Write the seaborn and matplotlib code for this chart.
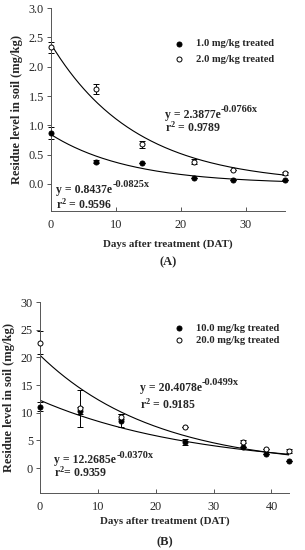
import numpy as np
import pandas as pd
import matplotlib
matplotlib.use("Agg")
import matplotlib.pyplot as plt
import seaborn as sns

# Panel A data (days, mg/kg)
days_a = [0, 7, 14, 22, 28, 36]
low_a = [0.87, 0.38, 0.36, 0.10, 0.06, 0.06]
low_a_err = [0.10, 0.03, 0.0, 0.0, 0.0, 0.0]
high_a = [2.33, 1.62, 0.68, 0.38, 0.24, 0.18]
high_a_err = [0.09, 0.09, 0.06, 0.04, 0.0, 0.03]
fit_low_a = (0.8437, -0.0825)
fit_high_a = (2.3877, -0.0766)

# Panel B data
days_b = [0, 7, 14, 25, 35, 39, 43]
low_b = [11.1, 10.4, 8.6, 4.7, 3.8, 2.5, 1.3]
low_b_err = [0.8, 0.7, 1.2, 0.6, 0.0, 0.0, 0.0]
high_b = [22.7, 10.8, 9.3, 7.4, 4.8, 3.5, 3.1]
high_b_err = [2.1, 3.3, 0.5, 0.0, 0.3, 0.0, 0.3]
fit_low_b = (12.2685, -0.0370)
fit_high_b = (20.4078, -0.0499)

sns.set_style("ticks")
plt.rcParams["font.family"] = ["Liberation Serif", "DejaVu Serif"]
plt.rcParams["mathtext.fontset"] = "custom"
plt.rcParams["mathtext.bf"] = "Liberation Serif:bold"
plt.rcParams["mathtext.rm"] = "Liberation Serif:bold"
plt.rcParams["mathtext.default"] = "bf"

fig = plt.figure(figsize=(3.05, 5.5), dpi=100)
ax_a = fig.add_axes([0.167, 0.6164, 0.767, 0.369])
ax_b = fig.add_axes([0.131, 0.1036, 0.816, 0.347])

EQ_SIZE = 8.5


def equation(ax, x, y, coef, expo):
    t = ax.text(x, y, "y = %se" % coef, fontsize=EQ_SIZE, fontweight="bold", va="center")
    ax.annotate(expo, xy=(1.0, 0.55), xycoords=t, va="bottom", ha="left",
                fontsize=7.5, fontweight="bold")


def draw_panel(ax, days, low, low_err, high, high_err, fit_low, fit_high, labels, xmax,
               anchor, spacing, xpad):
    x_fit = np.linspace(0, xmax, 200)
    for a, k in (fit_low, fit_high):
        sns.lineplot(x=x_fit, y=a * np.exp(k * x_fit), ax=ax, color="black", lw=0.8)
    for vals, err in ((high, high_err), (low, low_err)):
        eb = ax.errorbar(days, vals, yerr=err, fmt="none", ecolor="black", elinewidth=0.7,
                         capsize=2, capthick=0.7)
        for art in eb.lines[1] + eb.lines[2]:
            art.set_clip_on(False)
    df = pd.DataFrame({"day": days * 2, "val": low + high,
                       "grp": [labels[0]] * len(days) + [labels[1]] * len(days)})
    for lab, fc in zip(labels, ("black", "white")):
        sns.scatterplot(data=df[df.grp == lab], x="day", y="val", ax=ax, color=fc,
                        edgecolor="black", s=13, linewidth=0.7, label=lab, zorder=5)
    for coll in ax.collections:
        coll.set_clip_on(False)
    ax.set_xlim(0, xmax)
    for sp in ("top", "right"):
        ax.spines[sp].set_visible(False)
    for sp in ("left", "bottom"):
        ax.spines[sp].set_linewidth(0.7)
        ax.spines[sp].set_color("#555555")
    ax.tick_params(length=3, width=0.7, labelsize=8.8, pad=2, color="#555555")
    ax.tick_params(axis="x", direction="in", pad=5.5)
    ax.set_xlabel("Days after treatment (DAT)", fontsize=7.8, fontweight="bold", labelpad=xpad)
    ax.set_ylabel("Residue level in soil (mg/kg)", fontsize=9, fontweight="bold", labelpad=4)
    ax.legend(loc="upper left", bbox_to_anchor=anchor, frameon=False, borderaxespad=0,
              borderpad=0, prop={"size": 7.6, "weight": "bold"}, handletextpad=1.1,
              labelspacing=spacing, handlelength=1.0)


draw_panel(ax_a, days_a, low_a, low_a_err, high_a, high_a_err, fit_low_a, fit_high_a,
           ["1.0 mg/kg treated", "2.0 mg/kg treated"], 36, (0.526, 0.847), 0.6, 6)
ax_a.set_ylim(-0.46, 3.0)
ax_a.set_yticks([0, 0.5, 1.0, 1.5, 2.0, 2.5, 3.0])
ax_a.set_yticklabels(["0.0", "0.5", "1.0", "1.5", "2.0", "2.5", "3.0"])
ax_a.set_xticks([0, 10, 20, 30])
equation(ax_a, 17.5, 1.18, "2.3877", "-0.0766x")
ax_a.text(17.5, 0.96, "r$^2$ = 0.9789", fontsize=EQ_SIZE, fontweight="bold", va="center")
equation(ax_a, 0.8, -0.10, "0.8437", "-0.0825x")
ax_a.text(0.8, -0.34, "r$^2$ = 0.9596", fontsize=EQ_SIZE, fontweight="bold", va="center")
ax_a.text(0.5, -0.225, "(A)", transform=ax_a.transAxes, ha="center", va="top",
          fontsize=9, fontweight="bold")

draw_panel(ax_b, days_b, low_b, low_b_err, high_b, high_b_err, fit_low_b, fit_high_b,
           ["10.0 mg/kg treated", "20.0 mg/kg treated"], 43, (0.538, 0.89), 0.3, 3)
ax_b.set_ylim(-4.5, 30)
ax_b.set_yticks([0, 5, 10, 15, 20, 25, 30])
ax_b.set_xticks([0, 10, 20, 30, 40])
equation(ax_b, 17.2, 14.5, "20.4078", "-0.0499x")
ax_b.text(17.2, 11.5, "r$^2$ = 0.9185", fontsize=EQ_SIZE, fontweight="bold", va="center")
equation(ax_b, 2.5, 1.45, "12.2685", "-0.0370x")
ax_b.text(2.5, -0.7, "r$^2$= 0.9359", fontsize=EQ_SIZE, fontweight="bold", va="center")
ax_b.text(0.5, -0.225, "(B)", transform=ax_b.transAxes, ha="center", va="top",
          fontsize=9, fontweight="bold")

fig.savefig("out.png", dpi=100)
